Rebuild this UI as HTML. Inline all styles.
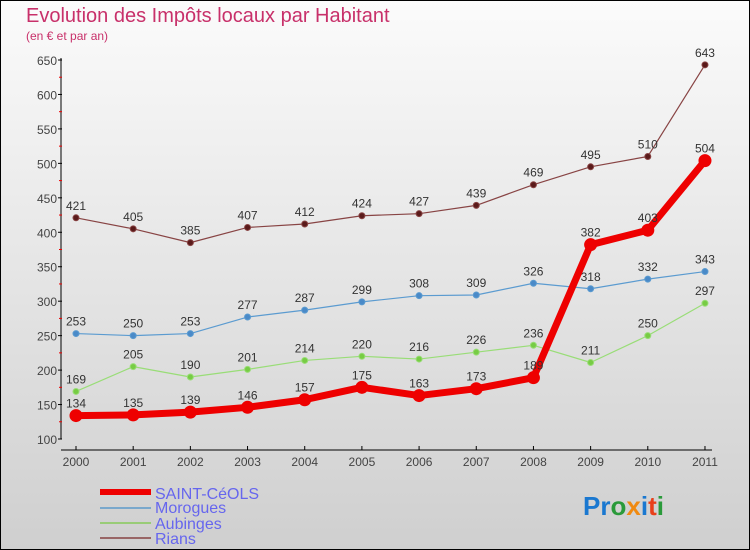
<!DOCTYPE html>
<html><head><meta charset="utf-8"><style>
body{margin:0}
#c{width:748px;height:548px;border:1px solid #000;background:linear-gradient(#fbfbfb,#cfcfcf);position:relative;font-family:"Liberation Sans",sans-serif;overflow:hidden}
</style></head><body>
<div id="c">
<svg width="748" height="548" viewBox="1 1 748 548" id="s" style="position:absolute;left:0;top:0">
<text x="26" y="22" font-size="20" fill="#c8306a">Evolution des Impôts locaux par Habitant</text>
<text x="26" y="40" font-size="12" fill="#c8306a">(en € et par an)</text>
<g id="axes"></g><g id="series"></g>
<g>
<line x1="100" y1="492" x2="151" y2="492" stroke="#e00" stroke-width="6"/>
<text x="155" y="499" font-size="16" fill="#6666ee">SAINT-CéOLS</text>
<line x1="100" y1="508" x2="151" y2="508" stroke="#7aa8cc" stroke-width="2"/>
<text x="155" y="513" font-size="16" fill="#6666ee">Morogues</text>
<line x1="100" y1="523" x2="151" y2="523" stroke="#99cc77" stroke-width="2"/>
<text x="155" y="529" font-size="16" fill="#6666ee">Aubinges</text>
<line x1="100" y1="538" x2="151" y2="538" stroke="#996666" stroke-width="2"/>
<text x="155" y="544" font-size="16" fill="#6666ee">Rians</text>
</g>
<text x="583" y="515" font-size="26" font-weight="bold"><tspan fill="#1a78d0">Pr</tspan><tspan fill="#2a9a3a">o</tspan><tspan fill="#f08a10">x</tspan><tspan fill="#1a78d0">i</tspan><tspan fill="#e8401a">t</tspan><tspan fill="#2a9a3a">i</tspan></text>
</svg>
</div>
<script>
const years=[2000,2001,2002,2003,2004,2005,2006,2007,2008,2009,2010,2011];
const yTicks=[100,150,200,250,300,350,400,450,500,550,600,650];
const saint=[134,135,139,146,157,175,163,173,189,382,403,504];
const morogues=[253,250,253,277,287,299,308,309,326,318,332,343];
const aubinges=[169,205,190,201,214,220,216,226,236,211,250,297];
const rians=[421,405,385,407,412,424,427,439,469,495,510,643];
const NS="http://www.w3.org/2000/svg";
const X=i=>76+i*57.18;
const Y=v=>439-(v-100)*(379/550);
function mk(tag,at,parent){const e=document.createElementNS(NS,tag);for(const k in at)e.setAttribute(k,at[k]);parent.appendChild(e);return e;}
const ax=document.getElementById('axes');
let l=mk('line',{x1:61,y1:58,x2:61,y2:439,stroke:'#000'},ax);


yTicks.forEach(v=>{
 const t=mk('line',{x1:58,y1:Y(v),x2:62,y2:Y(v),stroke:'#000'},ax);
 
 
 const tx=mk('text',{x:57,y:Y(v)+5,'font-size':12,fill:'#444','text-anchor':'end'},ax);
 tx.textContent=v;
 
 
 if(v<650){const m=mk('line',{x1:59,y1:Y(v+25),x2:62,y2:Y(v+25),stroke:'#e00'},ax);
 
 }
});
l=mk('line',{x1:61,y1:450,x2:712,y2:450,stroke:'#000'},ax);


years.forEach((y,i)=>{
 const t=mk('line',{x1:X(i),y1:446,x2:X(i),y2:450,stroke:'#000'},ax);
 
 
 const tx=mk('text',{x:X(i),y:466,'font-size':12,fill:'#444','text-anchor':'middle'},ax);
 tx.textContent=y;
 
 
});
const sg=document.getElementById('series');
function series(name,data,color,dot,w,r){
 const g=mk('g',{},sg);
 
 
 const p=mk('polyline',{points:data.map((v,i)=>X(i)+','+Y(v)).join(' '),fill:'none',stroke:color,'stroke-width':w,'stroke-linejoin':'round'},g);
 
 
 data.forEach((v,i)=>{
  const c=mk('circle',{cx:X(i),cy:Y(v),r:r,fill:dot,stroke:color,'stroke-width':1},g);
  
  
  const t=mk('text',{x:X(i),y:Y(v)-8,'font-size':12,fill:'#333','text-anchor':'middle'},g);
  t.textContent=v;
  
  
 });
}
series('rians',rians,'#884444','#5a1a1a',1.2,3);
series('morogues',morogues,'#5b9bd0','#4a8ac8',1.2,3);
series('aubinges',aubinges,'#99dd77','#77cc44',1.2,3);
series('saint-ceols',saint,'#ee0000','#ee0000',7,6);
</script>
</body></html>
